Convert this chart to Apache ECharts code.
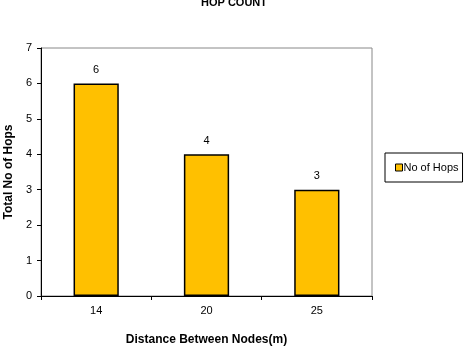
<!DOCTYPE html>
<html><head><meta charset="utf-8">
<script src="https://cdn.jsdelivr.net/npm/echarts@6/dist/echarts.min.js"></script>
<style>html,body{margin:0;padding:0;background:#fff}#c{width:469px;height:348px}</style>
</head><body><div id="c"></div>
<script>
const categories = ['14', '20', '25'];
const hops = [6, 4, 3];
const seriesName = 'No of Hops';
const yTicks = [0, 1, 2, 3, 4, 5, 6, 7];

const chart = echarts.init(document.getElementById('c'));
const font = '"Liberation Sans", Arial, sans-serif';
chart.setOption({
  animation: false,
  backgroundColor: '#fff',
  title: {
    text: 'HOP COUNT', left: 234, textAlign: 'center', top: -3, padding: 0,
    textStyle: { fontFamily: font, fontSize: 11, fontWeight: 'bold', color: '#000' }
  },
  grid: { left: 41, right: 97, top: 48, bottom: 52, show: true, borderColor: '#888', borderWidth: 1,
    containLabel: false, outerBoundsMode: 'none' },
  legend: {
    left: 385, top: 153, width: 83, height: 30,
    orient: 'vertical', padding: [9, 4, 9, 10],
    borderColor: '#000', borderWidth: 1,
    itemWidth: 7, itemHeight: 7, itemGap: 2,
    textStyle: { fontFamily: font, fontSize: 11, color: '#000', padding: [0, 0, 0, -4] },
    data: [{ name: seriesName, icon: 'rect', itemStyle: { borderColor: '#000', borderWidth: 1 } }]
  },
  xAxis: {
    type: 'category', data: categories,
    name: 'Distance Between Nodes(m)', nameLocation: 'middle', nameGap: 38,
    nameTextStyle: { fontFamily: font, fontSize: 12, fontWeight: 'bold', color: '#000' },
    axisLine: { lineStyle: { color: '#000', width: 1 } },
    axisTick: { show: true, alignWithLabel: false, length: 4, lineStyle: { color: '#000' } },
    axisLabel: { fontFamily: font, fontSize: 11, color: '#000', margin: 9 }
  },
  yAxis: {
    type: 'value', min: 0, max: 7, interval: 1,
    name: 'Total No of Hops', nameLocation: 'middle', nameGap: 25,
    nameTextStyle: { fontFamily: font, fontSize: 12, fontWeight: 'bold', color: '#000' },
    axisLine: { show: true, lineStyle: { color: '#000', width: 1 } },
    axisTick: { show: true, length: 4, lineStyle: { color: '#000' } },
    splitLine: { show: false },
    axisLabel: { fontFamily: font, fontSize: 11, color: '#000', margin: 9,
      formatter: v => yTicks.includes(v) ? String(v) : '' }
  },
  series: [{
    name: seriesName, type: 'bar', data: hops, barWidth: '41%',
    itemStyle: { color: '#FFC000', borderColor: '#000', borderWidth: 1.5 },
    label: { show: true, position: 'top', distance: 8, fontFamily: font, fontSize: 11, color: '#000' }
  }]
});
</script></body></html>
